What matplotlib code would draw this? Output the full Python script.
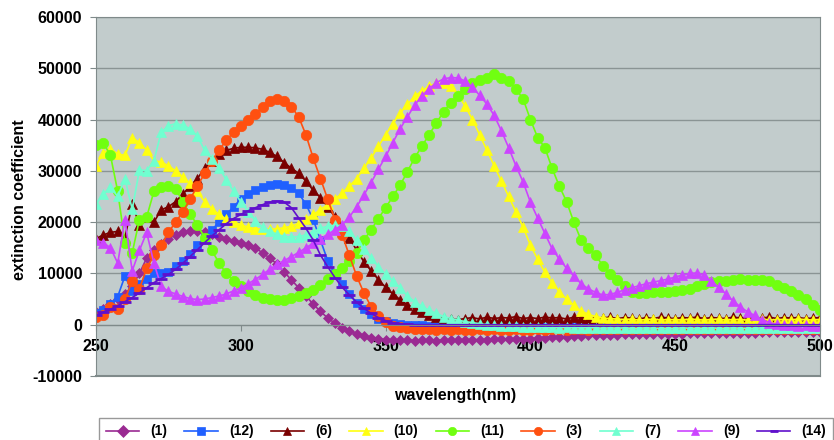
import numpy as np
import matplotlib.pyplot as plt
from matplotlib.lines import Line2D

plt.rcParams['font.family'] = ['Liberation Sans', 'DejaVu Sans']
plt.rcParams['font.weight'] = 'bold'
plt.rcParams['axes.unicode_minus'] = False

# wavelength grid (nm), 2.5 nm steps
wl = np.arange(250, 500.01, 2.5)

# extinction coefficients in units of 1000
s1 = [2.5, 3.0, 4.0, 5.0, 6.0, 7.5, 10.0, 13.0, 14.5, 15.8,
      16.8, 17.5, 18.0, 18.2, 18.3, 18.1, 17.6, 17.1, 16.7, 16.3,
      16.0, 15.6, 15.0, 14.0, 13.0, 11.8, 10.3, 8.7, 7.2, 5.6,
      4.0, 2.6, 1.3, 0.3, -0.6, -1.3, -1.8, -2.2, -2.6, -2.8,
      -2.9, -3.0, -3.0, -3.0, -3.1, -3.0, -3.0, -3.1, -3.0, -3.0,
      -3.0, -3.0, -2.9, -2.9, -2.9, -2.8, -2.8, -2.8, -2.7, -2.7,
      -2.7, -2.6, -2.5, -2.4, -2.3, -2.3, -2.2, -2.2, -2.1, -2.1,
      -2.0, -2.0, -2.0, -1.9, -1.9, -1.9, -1.9, -1.8, -1.8, -1.8,
      -1.8, -1.8, -1.7, -1.7, -1.7, -1.7, -1.6, -1.7, -1.6, -1.6,
      -1.6, -1.6, -1.5, -1.5, -1.5, -1.5, -1.5, -1.4, -1.4, -1.4,
      -1.4]
s12 = [2.2, 2.8, 4.0, 5.5, 9.5, 6.5, 8.0, 9.0, 10.0, 10.0,
       10.3, 11.5, 12.5, 13.8, 15.5, 17.0, 18.5, 20.0, 21.5, 23.0,
       24.5, 25.5, 26.2, 26.8, 27.3, 27.5, 27.3, 26.7, 25.6, 23.5,
       20.5, 16.5, 12.5, 10.0, 8.0, 6.0, 4.2, 3.0, 2.0, 1.2,
       0.7, 0.3, 0.1, 0.0, -0.1, -0.1, -0.2, -0.2, -0.2, -0.2,
       -0.2, -0.3, -0.2, -0.3, -0.2, -0.2, -0.3, -0.2, -0.3, -0.2,
       -0.2, -0.3, -0.2, -0.2, -0.3, -0.2, -0.3, -0.2, -0.2, -0.3,
       -0.2, -0.2, -0.3, -0.2, -0.3, -0.2, -0.2, -0.3, -0.2, -0.2,
       -0.3, -0.2, -0.2, -0.3, -0.2, -0.3, -0.2, -0.2, -0.3, -0.2,
       -0.2, -0.3, -0.2, -0.3, -0.2, -0.2, -0.3, -0.2, -0.2, -0.3,
       -0.2]
s6 = [16.8, 17.5, 18.0, 18.2, 17.0, 23.5, 19.5, 21.0, 20.0, 22.4,
      23.0, 24.0, 25.5, 27.0, 28.5, 30.5, 32.0, 33.2, 34.0, 34.4,
      34.6, 34.6, 34.5, 34.2, 33.6, 32.8, 31.6, 30.5, 29.5, 28.0,
      26.2, 24.8, 23.0, 21.0, 19.2, 17.0, 14.5, 12.3, 10.5, 8.8,
      7.3, 6.0, 4.9, 3.9, 3.1, 2.5, 1.9, 1.5, 1.3, 1.1,
      1.0, 1.2, 1.4, 1.1, 1.5, 1.2, 1.4, 1.3, 1.6, 1.2,
      1.4, 1.2, 1.5, 1.3, 1.4, 1.1, 1.5, 1.3, 1.2, 1.4,
      1.3, 1.5, 1.2, 1.4, 1.3, 1.1, 1.4, 1.2, 1.5, 1.3,
      1.2, 1.4, 1.3, 1.5, 1.2, 1.4, 1.3, 1.2, 1.5, 1.3,
      1.4, 1.2, 1.3, 1.5, 1.2, 1.4, 1.3, 1.4, 1.2, 1.3,
      1.4]
s10 = [31.0, 33.5, 34.3, 33.3, 33.0, 36.5, 35.5, 34.0, 32.0, 31.7,
       31.0, 30.0, 28.8, 27.6, 26.0, 24.0, 22.6, 21.5, 20.6, 20.0,
       19.5, 19.0, 18.7, 18.6, 18.6, 18.7, 18.9, 19.2, 19.8, 20.6,
       21.5, 22.4, 23.5, 24.5, 25.7, 27.0, 28.5, 30.5, 32.5, 34.8,
       37.0, 39.2, 41.2, 43.0, 44.5, 45.6, 46.5, 47.1, 47.2, 46.5,
       44.8, 42.6, 40.0, 37.0, 34.0, 31.0, 28.0, 25.0, 22.0, 19.0,
       15.5, 12.8, 10.2, 8.2, 6.4, 5.0, 3.8, 2.7, 2.0, 1.6,
       1.3, 1.2, 1.1, 1.0, 1.1, 0.9, 1.0, 1.1, 0.9, 1.0,
       1.0, 0.9, 1.1, 1.0, 0.9, 1.0, 1.1, 0.9, 1.0, 1.0,
       0.9, 1.0, 1.1, 0.9, 1.0, 1.0, 0.9, 1.1, 1.0, 0.9,
       1.0]
s11 = [35.0, 35.5, 33.0, 26.0, 16.0, 14.0, 20.5, 21.0, 26.0, 26.8,
       27.0, 26.5, 24.0, 21.5, 19.5, 17.0, 14.5, 12.0, 10.0, 8.6,
       7.5, 6.5, 5.8, 5.3, 5.0, 4.9, 4.9, 5.2, 5.6, 6.2,
       6.8, 7.8, 8.9, 9.9, 11.0, 12.5, 14.0, 16.5, 18.5, 20.7,
       22.8, 25.0, 27.2, 29.8, 32.5, 34.8, 37.0, 39.3, 41.5, 43.3,
       44.5, 46.0, 47.2, 47.8, 48.2, 48.8, 48.2, 47.5, 46.0, 44.0,
       40.0, 36.5, 34.5, 30.5, 27.0, 24.0, 20.0, 16.5, 15.0, 13.6,
       11.5, 9.8, 8.7, 7.6, 6.3, 6.2, 6.2, 6.3, 6.3, 6.4,
       6.5, 6.7, 7.0, 7.5, 8.0, 8.3, 8.6, 8.5, 8.7, 8.9,
       8.8, 8.7, 8.7, 8.5, 7.8, 7.2, 6.5, 5.8, 5.0, 3.8,
       2.8]
s3 = [1.5, 1.8, 3.5, 3.0, 5.0, 8.5, 7.0, 11.0, 13.5, 15.5,
      18.0, 20.0, 22.0, 24.5, 27.0, 29.5, 32.0, 34.0, 36.0, 37.5,
      38.8, 40.0, 41.0, 42.5, 43.6, 44.0, 43.6, 42.5, 40.5, 37.0,
      32.5, 28.5, 24.5, 20.5, 17.5, 13.5, 9.5, 6.2, 3.5, 1.7,
      0.5, -0.2, -0.5, -0.7, -0.8, -0.9, -0.9, -1.0, -0.9, -1.0,
      -0.9, -1.0, -1.0, -0.9, -1.0, -0.9, -1.0, -1.0, -0.9, -1.0,
      -1.0, -0.9, -1.0, -0.9, -0.9, -1.0, -0.9, -0.9, -1.0, -0.9,
      -0.9, -0.8, -0.9, -0.9, -0.8, -0.9, -0.8, -0.9, -0.8, -0.8,
      -0.9, -0.8, -0.8, -0.9, -0.8, -0.8, -0.8, -0.9, -0.8, -0.8,
      -0.8, -0.9, -0.8, -0.8, -0.8, -0.8, -0.9, -0.8, -0.8, -0.8,
      -0.8]
s7 = [23.5, 25.5, 26.8, 25.0, 28.5, 22.5, 30.2, 30.0, 32.0, 37.5,
      38.8, 39.2, 38.9, 38.2, 36.8, 34.0, 32.3, 30.5, 28.3, 26.0,
      24.0, 22.0, 20.3, 19.0, 18.3, 17.6, 17.2, 17.1, 17.2, 17.5,
      18.1, 18.8, 19.2, 19.4, 19.3, 18.2, 16.5, 14.8, 13.0, 11.3,
      9.9, 8.5, 7.2, 5.6, 4.5, 3.6, 2.8, 2.2, 1.6, 1.2,
      0.9, 0.6, 0.4, 0.2, 0.0, -0.1, -0.2, -0.3, -0.3, -0.4,
      -0.4, -0.5, -0.5, -0.5, -0.6, -0.5, -0.6, -0.6, -0.6, -0.6,
      -0.7, -0.6, -0.7, -0.6, -0.7, -0.7, -0.6, -0.7, -0.7, -0.7,
      -0.7, -0.6, -0.7, -0.7, -0.7, -0.6, -0.7, -0.7, -0.6, -0.7,
      -0.7, -0.7, -0.6, -0.7, -0.6, -0.6, -0.7, -0.6, -0.6, -0.6,
      -0.6]
s9 = [16.5, 16.0, 15.0, 12.0, 20.5, 10.5, 14.5, 18.0, 12.0, 7.5,
      6.5, 6.0, 5.5, 5.1, 4.9, 5.0, 5.3, 5.6, 6.0, 6.6,
      7.2, 8.0, 8.8, 9.8, 10.8, 11.8, 12.5, 13.3, 14.1, 15.0,
      15.9, 16.8, 17.6, 18.5, 19.5, 21.0, 23.0, 25.3, 27.7, 30.3,
      32.8, 35.5, 38.2, 40.5, 42.8, 44.6, 46.0, 47.2, 47.9, 48.2,
      48.1, 47.5, 46.3, 44.7, 43.0, 40.8, 37.8, 34.5, 31.0, 27.8,
      23.9, 20.8, 17.8, 14.8, 12.8, 11.0, 9.5, 8.0, 7.0, 6.3,
      5.8, 5.9, 6.3, 6.8, 7.2, 7.6, 8.0, 8.3, 8.6, 8.9,
      9.3, 9.7, 10.0, 10.1, 9.7, 8.5, 7.3, 6.0, 4.6, 3.5,
      2.5, 1.8, 1.0, 0.4, 0.1, -0.1, -0.1, -0.2, -0.1, -0.2,
      -0.2]
s14 = [1.8, 2.4, 3.0, 3.7, 4.5, 5.3, 6.2, 7.2, 8.2, 9.0,
       9.8, 10.8, 12.0, 13.3, 14.6, 16.0, 17.3, 18.5, 19.7, 20.7,
       21.5, 22.2, 22.8, 23.4, 23.9, 24.1, 23.9, 22.8, 20.8, 18.8,
       16.5, 13.6, 11.3, 9.2, 7.3, 5.8, 4.4, 3.2, 2.2, 1.4,
       0.8, 0.4, 0.2, 0.1, 0.0, 0.0, 0.0, 0.0, 0.0, 0.0,
       0.0, 0.0, 0.0, 0.0, 0.0, 0.0, 0.0, 0.0, 0.0, 0.0,
       0.0, 0.0, 0.0, 0.0, 0.0, 0.0, 0.0, 0.0, 0.0, 0.0,
       0.0, 0.0, 0.0, 0.0, 0.0, 0.0, 0.0, 0.0, 0.0, 0.0,
       0.0, 0.0, 0.0, 0.0, 0.0, 0.0, 0.0, 0.0, 0.0, 0.0,
       0.0, 0.0, 0.0, 0.0, 0.0, 0.0, 0.0, 0.0, 0.0, 0.0,
       0.0]

labels = ['(1)', '(12)', '(6)', '(10)', '(11)', '(3)', '(7)', '(9)', '(14)']
series = [s1, s12, s6, s10, s11, s3, s7, s9, s14]
colors = ['#9a2a92', '#2060ff', '#7a0000', '#ffff10', '#70ff10',
          '#ff5010', '#70ffd0', '#cc44ff', '#6010cc']
markers = ['D', 's', '^', '^', 'o', 'o', '^', '^', '_']
msizes = [5, 6, 7, 7, 7.5, 7.5, 7, 7, 8]

fig = plt.figure(figsize=(8.34, 4.4), dpi=100)
ax = fig.add_axes([96 / 834, 1 - 376 / 440, 724 / 834, 359 / 440])
ax.set_facecolor('#c2cccc')

for lab, ys, c, m, ms in zip(labels, series, colors, markers, msizes):
    ax.plot(wl, np.array(ys) * 1000, color=c, marker=m, markersize=ms,
            markeredgewidth=2 if m == '_' else 0.5, markeredgecolor=c,
            linewidth=1.2, label=lab)

ax.set_xlim(250, 500)
ax.set_ylim(-10000, 60000)
ax.set_yticks(np.arange(-10000, 60001, 10000))
ax.set_xticks([250, 300, 350, 400, 450, 500])
ax.yaxis.grid(True, color='#8a9494', linewidth=1)
ax.set_axisbelow(True)

for sp in ['left', 'right', 'top']:
    ax.spines[sp].set_color('#7f8a8a')
ax.spines['bottom'].set_position(('data', 0))
ax.spines['bottom'].set_color('#7f8a8a')
ax.axhline(-10000, color='#7f8a8a', linewidth=1.5, clip_on=False)

ax.tick_params(axis='both', labelsize=11.5, colors='#7f8a8a', labelcolor='black')
ax.tick_params(axis='x', direction='out', length=4, pad=6)
ax.tick_params(axis='y', direction='out', length=4, pad=6)

fig.text(455 / 834, 1 - 395 / 440, 'wavelength(nm)', ha='center', va='center',
         fontsize=11.5, fontweight='bold')
fig.text(20 / 834, 1 - 200 / 440, 'extinction coefficient', ha='center', va='center',
         rotation=90, fontsize=11.5, fontweight='bold')

handles = [Line2D([], [], color=c, marker=m, markersize=6, linewidth=1.2,
                  markeredgewidth=2 if m == '_' else 0.5, markeredgecolor=c)
           for c, m in zip(colors, markers)]
leg = fig.legend(handles, labels, loc='upper left', ncol=9, mode='expand',
                 bbox_to_anchor=(92 / 834, 1 - 411 / 440, 748 / 834, 0.001),
                 fontsize=10, frameon=True, fancybox=False, edgecolor='#808080',
                 handlelength=2.4, handletextpad=0.8, borderpad=0.5)
leg.get_frame().set_linewidth(1)

fig.savefig('out.png', dpi=100, facecolor='white')
